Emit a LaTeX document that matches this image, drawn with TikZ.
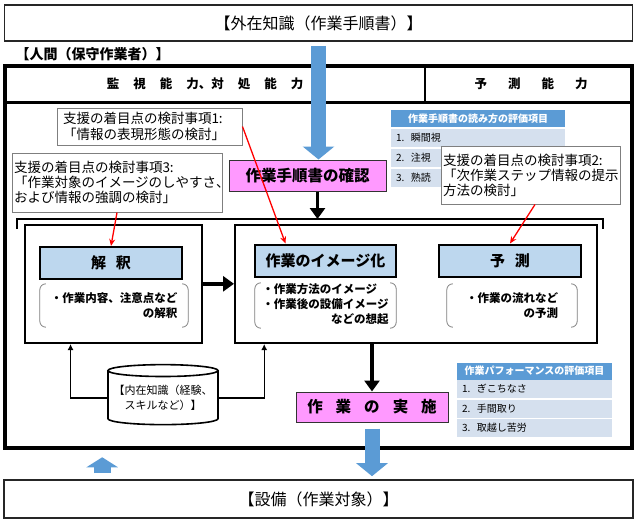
\documentclass[tikz,border=0pt]{standalone}
\usepackage{fontspec}
\setmainfont{Noto Sans CJK JP}
\usetikzlibrary{arrows.meta}
\usetikzlibrary{calc}
\usetikzlibrary{shapes.geometric}

\definecolor{procpink}{HTML}{FF99FF}
\definecolor{headblue}{HTML}{BDD7EE}
\definecolor{tabblue}{HTML}{5B9BD5}
\definecolor{rowblue}{HTML}{D5E0EE}
\definecolor{flowblue}{HTML}{5B9BD5}
\definecolor{notegray}{HTML}{7F7F7F}

\tikzset{
  sz/.style 2 args={minimum width=#1pt, minimum height=#2pt, inner sep=0pt},
  outerbox/.style={draw=black!85, line width=1.6pt},
  groupbox/.style={draw, line width=2pt, fill=white},
  headbox/.style={draw, line width=2pt, fill=headblue, font=\bfseries\fontsize{15}{18}\selectfont},
  procbox/.style={draw=black!80, line width=1pt, fill=procpink, font=\bfseries\fontsize{15.5}{18}\selectfont},
  note/.style={draw=notegray, line width=1pt, fill=white, align=left, inner xsep=6pt, inner ysep=2pt, font=\fontsize{13.5}{16}\selectfont},
  brk/.style={draw=notegray, line width=0.8pt, rounded corners=6pt},
  memo/.style={font=\bfseries\fontsize{11.5}{15}\selectfont},
  tabhead/.style={fill=tabblue, text=white, align=center, text width=#1pt, minimum height=17pt, inner ysep=0pt, inner xsep=5pt, font=\bfseries\fontsize{10}{11}\selectfont},
  tabrow/.style={fill=rowblue, align=left, text width=#1pt, minimum height=18pt, inner ysep=0pt, inner xsep=5pt, font=\fontsize{10}{11}\selectfont},
  thickar/.style={line width=3.5pt, -{Triangle[width=15pt,length=11pt]}},
  thinar/.style={line width=1.4pt, -{Latex[width=6pt,length=6pt]}},
  redar/.style={red, line width=1.3pt, -{Stealth[width=6pt,length=7pt]}},
  flowar/.style={flowblue, line width=15pt, -{Triangle[width=31pt,length=13pt]}}
}

\newcommand\parbrk[1]{%
  \draw[brk] ([xshift=6pt]#1.north west) -- (#1.north west) -- (#1.south west) -- ([xshift=6pt]#1.south west);
  \draw[brk] ([xshift=-6pt]#1.north east) -- (#1.north east) -- (#1.south east) -- ([xshift=-6pt]#1.south east);}

\begin{document}
\begin{tikzpicture}[x=1pt,y=-1pt]
\useasboundingbox (0,0) rectangle (637,522);

% outside of the worker
\node[outerbox, sz={628}{36}] (doc) at (318.5,23) {\fontsize{16}{18}\selectfont 【外在知識（作業手順書）】};
\node[outerbox, sz={629}{38}] (equip) at (318.5,499) {\fontsize{16}{18}\selectfont 【設備（作業対象）】};
\node[anchor=west, font=\bfseries\fontsize{14}{16}\selectfont] (humanlbl) at (12,54) {【人間（保守作業者）】};

% the worker
\node[draw, line width=4.5pt, sz={627}{382}] (human) at (318.5,257) {};
\draw[line width=3pt] (5,102) -- (632,102);
\draw[line width=2.5pt] (425,66) -- (425,102);
\node[font=\bfseries\fontsize{12.5}{14}\selectfont] (monitor) at (205,84) {監\hspace{14pt}視\hspace{14pt}能\hspace{14pt}力、対\hspace{14pt}処\hspace{14pt}能\hspace{14pt}力};
\node[font=\bfseries\fontsize{12.5}{14}\selectfont] (foresee) at (531,84) {予\hspace{21pt}測\hspace{21pt}能\hspace{21pt}力};

% evaluation tables
\node[tabhead=164] (rt0) at (478,118.5) {作業手順書の読み方の評価項目};
\foreach \i/\t/\y in {1/瞬間視/138, 2/注視/158, 3/熟読/178}
  \node[tabrow=164] (rt\i) at (478,\y) {\i.\ \ \t};
\node[tabhead=145] (pf0) at (534.5,371) {作業パフォーマンスの評価項目};
\foreach \i/\t/\y in {1/ぎこちなさ/389, 2/手間取り/408.5, 3/取越し苦労/428}
  \node[tabrow=145] (pf\i) at (534.5,\y) {\i.\ \ \t};

% support points
\node[note, text width=173pt, minimum height=37pt] (pt1) at (149.5,126.5) {支援の着目点の検討事項1:\\「情報の表現形態の検討」};
\node[note, text width=206pt, inner xsep=2pt, minimum height=59pt, font=\fontsize{13.5}{15}\selectfont] (pt3) at (117,182.5) {支援の着目点の検討事項3:\\「作業対象のイメージのしやすさ、\\および情報の強調の検討」};
\node[note, text width=176pt, inner xsep=1.5pt, minimum height=58pt, font=\fontsize{13.5}{15}\selectfont] (pt2) at (531,175) {支援の着目点の検討事項2:\\「次作業ステップ情報の提示\\方法の検討」};

\node[procbox, sz={157}{31}] (check) at (307.5,175.5) {作業手順書の確認};

% bracket over the two stages
\coordinate (brl) at (17,219);
\coordinate (brr) at (603,219);
\draw[line width=2pt] ([yshift=-10pt]brl) -- (brl) -- (brr) -- ([yshift=-10pt]brr);

\node[groupbox, sz={177}{118}] (interp) at (113.5,284) {};
\node[groupbox, sz={362}{118}] (imagine) at (416,284) {};
\node[headbox, sz={142}{32}] (interph) at (111,263) {解\hspace{10pt}釈};
\node[headbox, sz={141}{32}] (imagineh) at (325.5,260.5) {作業のイメージ化};
\node[headbox, sz={142}{32}] (predh) at (510,260.5) {予\hspace{10pt}測};
\node[memo, sz={148}{43}, align=right] (interpm) at (114,305.5) {・作業内容、注意点など\\の解釈};
\node[memo, sz={141}{43}] (imaginem) at (325.5,305.5) {\begin{tabular}{@{}l@{}}・作業方法のイメージ\\・作業後の設備イメージ\\\multicolumn{1}{@{}r@{}}{などの想起}\end{tabular}};
\node[memo, sz={130}{43}, align=right] (predm) at (512,305.5) {・作業の流れなど\\の予測};
\parbrk{interpm}
\parbrk{imaginem}
\parbrk{predm}

\node[cylinder, shape border rotate=90, aspect=0.12, draw, line width=1.6pt, fill=white, sz={110}{60}, align=center, font=\fontsize{11}{15}\selectfont] (tacit) at (163,398) {【内在知識（経験、\\スキルなど）】};
\node[procbox, sz={152}{30}] (exec) at (372,407) {作\hspace{13pt}業\hspace{13pt}の\hspace{13pt}実\hspace{13pt}施};

% flow
\coordinate (feedback) at ($(equip.north west)!0.157!(equip.north east)$);
\draw[flowar, shorten <=4pt] ([xshift=11pt]check.north |- doc.south) -- ([xshift=11pt]check.north);
\draw[thickar] ([xshift=10pt]check.south) -- ([xshift=10pt]check.south |- brl);
\draw[thickar] (interp.east |- interpm.north) -- (imagine.west |- interpm.north);
\draw[thickar] (exec.north |- imagine.south) -- (exec.north);
\draw[thinar] (tacit.west) -| ($(interp.south west)!0.26!(interp.south east)$);
\draw[thinar] (tacit.east) -| ($(imagine.south west)!0.083!(imagine.south east)$);
\draw[flowar, shorten <=6pt, shorten >=3pt] (exec.south) -- (exec.south |- equip.north);
\draw[flowar, line width=17pt, -{Triangle[width=31pt,length=10pt]}, shorten <=6pt, shorten >=7pt] (feedback) -- (feedback |- human.south);

% support points to stages
\draw[redar] (pt1.east) -- ([xshift=-40pt]imagineh.north);
\draw[redar] (pt3.south) -- (interph.north);
\draw[redar] ([xshift=4pt]pt2.south) -- (predh.north);
\end{tikzpicture}
\end{document}
